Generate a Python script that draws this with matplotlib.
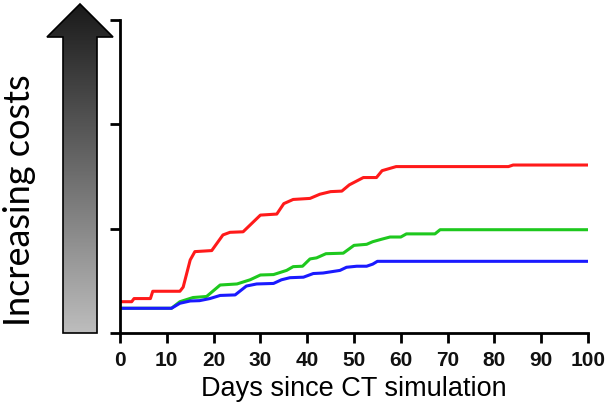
import numpy as np
import matplotlib
matplotlib.use("Agg")
import matplotlib.pyplot as plt
from matplotlib.patches import Polygon

# values (relative cost units, axis 0..3)
red_days = [0, 2.5, 3, 6.5, 7, 12.8, 13.5, 15, 16, 19.6, 22, 23.5, 26.3, 30, 33.5, 35, 37, 40.6,
            42.7, 45, 47.4, 49, 52, 54.8, 56, 59, 83, 84, 100]
red_vals = [0.30, 0.30, 0.33, 0.33, 0.40, 0.40, 0.44, 0.70, 0.78, 0.79, 0.94, 0.965, 0.97, 1.13,
            1.14, 1.24, 1.28, 1.29, 1.33, 1.355, 1.36, 1.42, 1.49, 1.49, 1.556, 1.595, 1.595, 1.61, 1.61]

green_days = [0, 11, 12.8, 15.6, 18.5, 21.4, 25, 27.8, 30, 32.8, 35.6, 37, 39, 40.6, 42, 44, 47.7,
              50, 52.7, 54, 56, 57.7, 60, 61.2, 67.3, 68.4, 100]
green_vals = [0.237, 0.237, 0.30, 0.34, 0.35, 0.46, 0.47, 0.51, 0.556, 0.56, 0.60, 0.636, 0.64, 0.71,
              0.72, 0.76, 0.765, 0.84, 0.85, 0.875, 0.90, 0.92, 0.92, 0.95, 0.95, 0.99, 0.99]

blue_days = [0, 11, 12.8, 15, 17, 19.2, 21.4, 24.6, 27, 29.2, 32.8, 34.5, 36.3, 39.2, 41.3, 43.4,
             47, 48.4, 50.6, 52.7, 54, 55, 100]
blue_vals = [0.237, 0.237, 0.285, 0.307, 0.31, 0.33, 0.36, 0.365, 0.45, 0.47, 0.475, 0.51, 0.53,
             0.535, 0.57, 0.575, 0.60, 0.63, 0.64, 0.64, 0.66, 0.687, 0.687]

xticks = list(range(0, 101, 10))
yticks = [0, 1, 2, 3]

fig = plt.figure(figsize=(6.08, 4.09), dpi=100)
W, H = 608, 409

ax = fig.add_axes([120 / W, 1 - 333 / H, 468 / W, 313 / H])
ax.plot(red_days, red_vals, color='#ff1a1a', lw=2.2, solid_joinstyle='round')
ax.plot(green_days, green_vals, color='#1ec81e', lw=2.2, solid_joinstyle='round')
ax.plot(blue_days, blue_vals, color='#1a1aff', lw=2.2, solid_joinstyle='round')
ax.set_xlim(0, 100)
ax.set_ylim(0, 3)
ax.set_xticks(xticks)
ax.set_yticks(yticks)
ax.set_yticklabels([])
ax.set_xticklabels([str(t) for t in xticks], fontsize=15, fontweight='bold',
                   family='Liberation Sans', color='#111111')
ax.set_xlabel('Days since CT simulation', fontsize=19.5, family='Liberation Sans', labelpad=4)
for s in ['top', 'right']:
    ax.spines[s].set_visible(False)
for s in ['left', 'bottom']:
    ax.spines[s].set_linewidth(2)
ax.tick_params(length=7, width=2, direction='out', pad=6)
ax.set_clip_on(False)

# gradient arrow on the left, in pixel coordinates
aax = fig.add_axes([0, 0, 1, 1], zorder=-1)
aax.set_xlim(0, W)
aax.set_ylim(H, 0)
aax.axis('off')
pts = [(80, 4), (113, 37), (97, 37), (97, 333), (63, 333), (63, 37), (47, 37)]
grad = np.linspace(0, 1, 256).reshape(-1, 1)
cmap = matplotlib.colors.LinearSegmentedColormap.from_list('g', ['#1a1a1a', '#6a6a6a', '#bdbdbd'])
im = aax.imshow(grad, extent=[47, 113, 333, 4], cmap=cmap, aspect='auto')
poly = Polygon(pts, closed=True, facecolor='none', edgecolor='black', lw=1.2)
aax.add_patch(poly)
im.set_clip_path(poly)

fig.text(20 / W, 1 - 200 / H, 'Increasing costs', rotation=90, ha='center', va='center',
         fontsize=26, family='Lato', color='black')

fig.savefig('out.png', dpi=100)
